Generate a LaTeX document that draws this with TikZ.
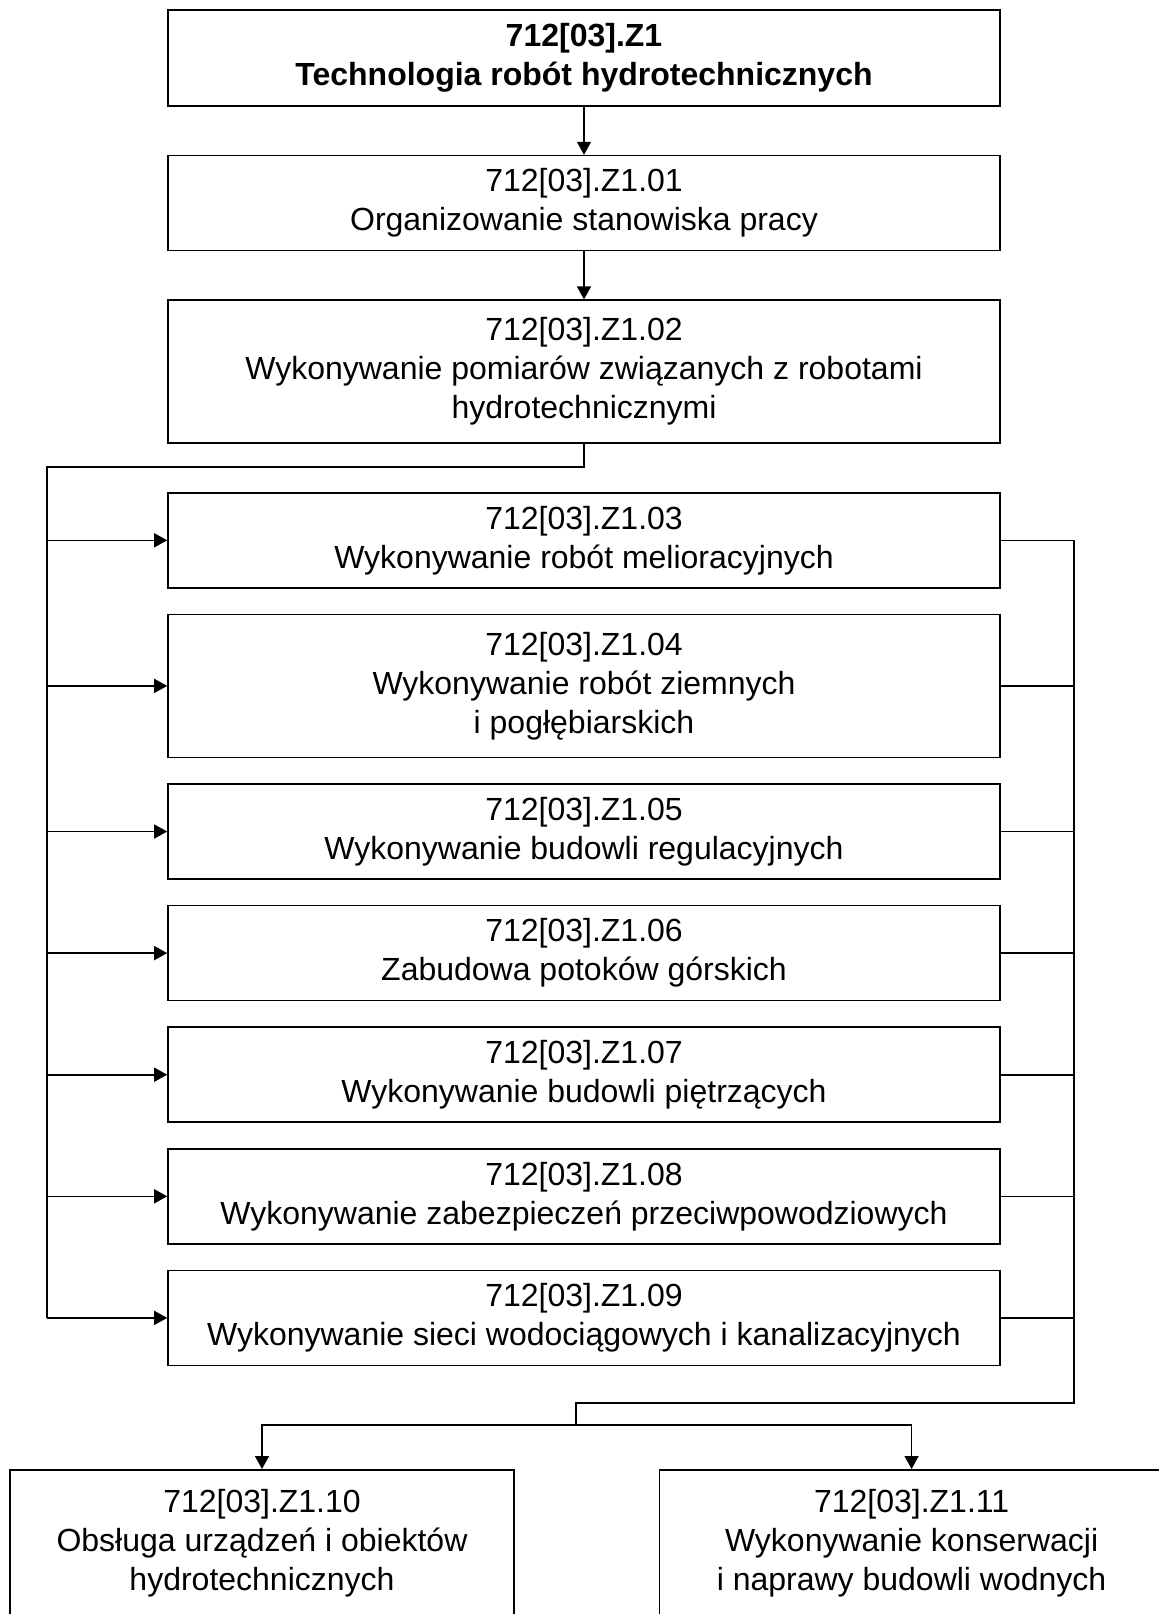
\documentclass[tikz,border=0pt]{standalone}
\usepackage{fontspec}
\setmainfont{Liberation Sans}
\usepackage{tikz}
\usetikzlibrary{arrows.meta,positioning}

\begin{document}
\begin{tikzpicture}[x=0.5pt, y=0.5pt,
  font=\fontsize{16}{19.5}\selectfont,
  bx/.style={draw, line width=0.8pt, minimum width=416pt, minimum height=47.5pt,
             align=center, inner sep=0pt},
  bx3/.style={bx, minimum height=71.5pt},
  bt/.style={draw, line width=0.8pt, minimum width=252pt, align=center,
             inner xsep=0pt, inner ysep=9.5pt, text depth=60pt, anchor=north},
  ln/.style={line width=0.8pt},
  ar/.style={ln, -{Triangle[length=6.5pt, width=7pt]}}]
\useasboundingbox (0,0) rectangle (1159,-1614);
\clip (0,0) rectangle (1159,-1614);
% main chain
\node[bx, minimum height=48pt] (top) at (584,-58) {\textbf{712[03].Z1}\\\textbf{Technologia robót hydrotechnicznych}};
\node[bx, below=24pt of top] (m01) {712[03].Z1.01\\Organizowanie stanowiska pracy};
\node[bx3, below=24pt of m01] (m02) {712[03].Z1.02\\Wykonywanie pomiarów związanych z robotami\\hydrotechnicznymi};
% parallel units
\node[bx, below=24pt of m02] (m03) {712[03].Z1.03\\Wykonywanie robót melioracyjnych};
\node[bx3, below=12.5pt of m03] (m04) {712[03].Z1.04\\Wykonywanie robót ziemnych\\i pogłębiarskich};
\node[bx, below=12.5pt of m04] (m05) {712[03].Z1.05\\Wykonywanie budowli regulacyjnych};
\node[bx, below=12.5pt of m05] (m06) {712[03].Z1.06\\Zabudowa potoków górskich};
\node[bx, below=12.5pt of m06] (m07) {712[03].Z1.07\\Wykonywanie budowli piętrzących};
\node[bx, below=12.5pt of m07] (m08) {712[03].Z1.08\\Wykonywanie zabezpieczeń przeciwpowodziowych};
\node[bx, below=12.5pt of m08] (m09) {712[03].Z1.09\\Wykonywanie sieci wodociągowych i kanalizacyjnych};
% final units
\node[bt] (m10) at (262,-1469) {712[03].Z1.10\\Obsługa urządzeń i obiektów\\hydrotechnicznych};
\node[bt, right=72pt of m10.north east, anchor=north west] (m11) {712[03].Z1.11\\Wykonywanie konserwacji\\i naprawy budowli wodnych};
\coordinate (lb) at (47,-467);
\coordinate (rb) at (1074,-1403);
\coordinate (jn) at (576,-1425);
\draw[ar] (top) -- (m01);
\draw[ar] (m01) -- (m02);
\draw[ln] (m02.south) |- (lb) -- (lb |- m09.west);
\foreach \n in {03,04,05,06,07,08,09}
  \draw[ar] (lb |- m\n.west) -- (m\n.west);
\foreach \n in {03,04,05,06,07,08,09}
  \draw[ln] (m\n.east) -- (rb |- m\n.east);
\draw[ln] (rb |- m03.east) -- (rb) -| (jn);
\draw[ar] (jn) -| (m10.north);
\draw[ar] (jn) -| (m11.north);
\end{tikzpicture}
\end{document}
